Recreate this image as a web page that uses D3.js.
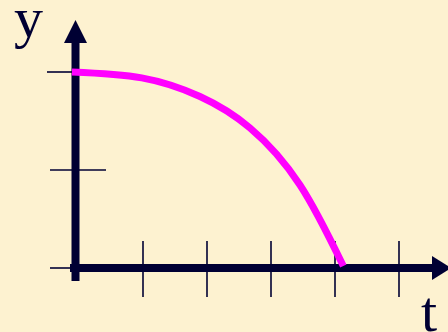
<!DOCTYPE html>
<html><head><meta charset="utf-8">
<script src="https://cdn.jsdelivr.net/npm/d3@7"></script>
<style>html,body{margin:0;padding:0;background:#FDF2D0;overflow:hidden}</style>
</head><body>
<script>
const times   = [-0.11, 0.98, 1.89, 2.67, 3.45, 4.13];
const heights = [2.0, 1.94, 1.75, 1.43, 0.85, 0.02];
const xTicks = [1, 2, 3, 4, 5];
const yTicks = [0, 1, 2];
const xLabel = "t", yLabel = "y";

const W = 448, H = 332, navy = "#000033";
const x = d3.scaleLinear().domain([0, 5]).range([79, 399]);
const y = d3.scaleLinear().domain([0, 2]).range([268, 72]);

const svg = d3.select("body").append("svg").attr("width", W).attr("height", H);
svg.append("rect").attr("width", W).attr("height", H).attr("fill", "#FDF2D0");

const ax0 = 75.5, ay0 = y(0);

// x ticks
svg.selectAll(".xt").data(xTicks).enter().append("line")
  .attr("x1", d => x(d)).attr("x2", d => x(d))
  .attr("y1", ay0 - 27).attr("y2", ay0 + 29)
  .attr("stroke", navy).attr("stroke-width", 1.6);

// y ticks
svg.selectAll(".yt").data(yTicks).enter().append("line")
  .attr("x1", d => d === 2 ? 47 : 50)
  .attr("x2", d => d === 1 ? 106 : ax0)
  .attr("y1", d => y(d)).attr("y2", d => y(d))
  .attr("stroke", navy).attr("stroke-width", 1.6);

// axes lines
svg.append("line").attr("x1", ax0).attr("x2", ax0).attr("y1", 281).attr("y2", 40)
  .attr("stroke", navy).attr("stroke-width", 8);
svg.append("line").attr("x1", 70).attr("x2", 435).attr("y1", ay0).attr("y2", ay0)
  .attr("stroke", navy).attr("stroke-width", 8);
// arrowheads
svg.append("path").attr("d", `M${ax0},20 L${ax0-11.5},43 L${ax0+11.5},43 Z`).attr("fill", navy);
svg.append("path").attr("d", `M451,${ay0} L432,${ay0-12} L432,${ay0+12} Z`).attr("fill", navy);

// curve
const pts = times.map((t, i) => [t, heights[i]]);
svg.append("path").datum(pts)
  .attr("d", d3.line().x(d => x(d[0])).y(d => y(d[1])).curve(d3.curveNatural))
  .attr("fill", "none").attr("stroke", "#FF00FF").attr("stroke-width", 7);

// labels
svg.append("text").attr("x", 14).attr("y", 37).text(yLabel)
  .attr("font-family", "Liberation Serif, Times New Roman, serif").attr("font-size", 58).attr("fill", navy);
svg.append("text").attr("x", 421).attr("y", 331).text(xLabel)
  .attr("font-family", "Liberation Serif, Times New Roman, serif").attr("font-size", 58).attr("fill", navy);
</script>
</body></html>
